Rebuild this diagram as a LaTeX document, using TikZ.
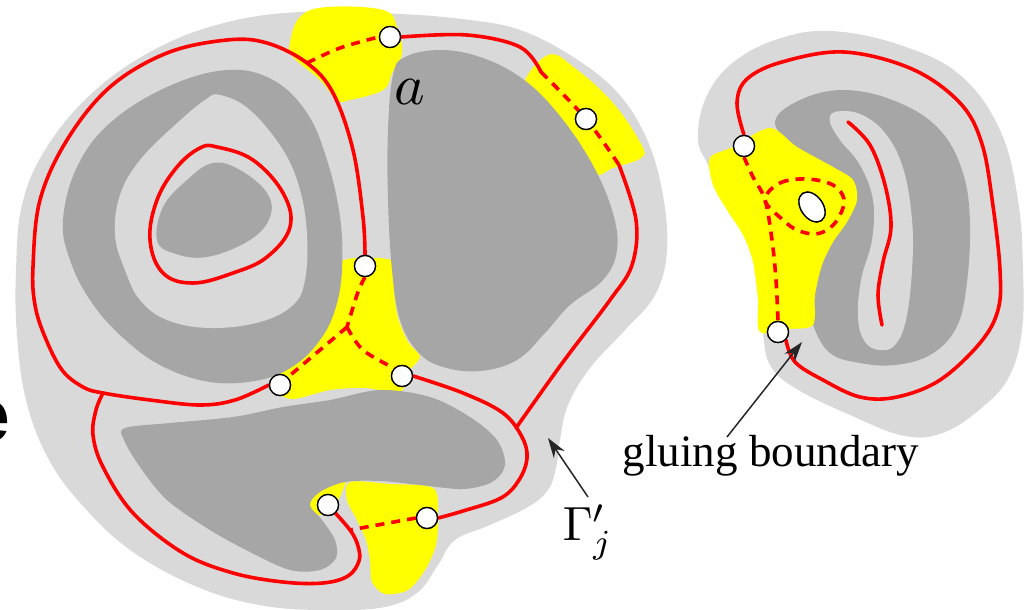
\documentclass[tikz,border=0pt]{standalone}
\usepackage{fontspec}
\setmainfont{Liberation Serif}
\newfontfamily\labelsans{Liberation Sans}
\usetikzlibrary{arrows.meta,shapes.geometric}
\definecolor{lg}{HTML}{D9D9D9}
\definecolor{dg}{HTML}{A6A6A6}
\definecolor{yl}{HTML}{FFFF00}
\definecolor{rd}{HTML}{FF0000}
\begin{document}
\begin{tikzpicture}[x=1pt,y=-1pt,
  redline/.style={draw=rd,line width=3.6pt,line cap=round},
  reddash/.style={draw=rd,line width=3.6pt,dash pattern=on 9pt off 7pt},
  dot/.style={circle,draw=black,fill=white,line width=1.3pt,minimum size=21pt,inner sep=0pt},
  hole/.style={ellipse,draw=black,fill=white,line width=1.3pt,minimum width=33pt,minimum height=22pt,inner sep=0pt},
  pointer/.style={draw=black!85,line width=1.5pt,-{Stealth[length=20pt,width=13pt]}},
  sm/.style={smooth cycle,tension=0.65}]
\useasboundingbox (0,0) rectangle (1036,610);
\begin{scope}
\clip (0,0) rectangle (1036,610);
\node[anchor=east,inner sep=0pt] (efrag) at (10,422) {\fontsize{75}{80}\selectfont\labelsans\bfseries e};
\end{scope}
% ---------- light gray bodies
\fill[lg] plot[sm] coordinates {(150,52) (220,24) (300,12) (400,14) (470,20) (520,30) (570,55) (615,90) (645,135) (662,190) (667,250) (655,295) (625,330) (590,368) (568,405) (560,440) (556,468) (548,490) (528,507) (490,525) (455,540) (438,565) (418,592) (385,607) (330,610) (265,606) (200,588) (133,552) (83,506) (48,458) (26,400) (17,335) (16,270) (22,205) (45,150) (90,95)};
\fill[lg] plot[sm] coordinates {(830,31) (900,45) (960,75) (1000,130) (1018,200) (1023,270) (1022,330) (1010,375) (985,405) (945,432) (905,436) (850,415) (795,388) (770,365) (763,333) (760,300) (756,270) (748,240) (735,215) (718,190) (708,165) (698,140) (705,100) (730,65) (775,40)};
% ---------- yellow patches
\fill[yl] plot[sm] coordinates {(290,43) (300,17) (327,7) (383,10) (397,27) (402,53) (392,73) (383,90) (350,100) (337,100) (320,80) (293,57)};
\fill[yl] plot[sm] coordinates {(522,90) (548,55) (576,69) (613,103) (641,144) (641,158) (613,168) (596,175) (580,160) (545,118)};
\fill[yl] plot[smooth cycle,tension=0.5] coordinates {(340,262) (368,258) (394,262) (394,290) (398,318) (408,342) (420,357) (408,372) (400,392) (365,388) (330,390) (292,399) (272,388) (275,370) (300,355) (325,320) (335,290)};
\fill[yl] plot[smooth cycle,tension=0.5] coordinates {(350,482) (390,484) (433,488) (438,515) (436,545) (425,570) (408,590) (385,594) (372,582) (370,560) (366,540) (357,520) (347,500)};
\fill[yl] plot[smooth cycle,tension=0.5] coordinates {(305,497) (311,484) (330,477) (346,477) (342,492) (335,505) (322,515) (309,512)};
% ---------- dark gray regions, left figure
\fill[dg] plot[sm] coordinates {(63,220) (77,167) (110,123) (167,87) (227,70) (273,80) (307,113) (327,160) (340,217) (342,270) (335,310) (320,340) (295,365) (260,380) (210,382) (160,365) (120,335) (90,300) (70,260)};
\fill[lg] plot[sm] coordinates {(220,95) (250,110) (283,150) (300,190) (307,235) (305,280) (293,305) (260,322) (210,328) (167,320) (140,300) (125,270) (115,235) (120,195) (140,160) (175,125) (205,100)};
\fill[dg] plot[sm] coordinates {(213,163) (240,170) (267,193) (270,217) (250,240) (207,257) (173,253) (157,240) (163,207) (187,180)};
\fill[dg] plot[sm] coordinates {(393,75) (405,57) (440,50) (480,57) (520,77) (555,110) (590,160) (612,210) (617,250) (603,280) (570,305) (545,333) (517,360) (480,371) (443,367) (418,352) (400,320) (392,270) (388,200) (388,130)};
\fill[dg] plot[smooth cycle,tension=0.55] coordinates {(125,428) (170,423) (233,417) (283,407) (330,400) (380,390) (430,397) (470,417) (497,440) (505,465) (492,482) (463,489) (420,485) (380,481) (345,482) (320,492) (310,505) (322,520) (335,540) (336,558) (320,570) (290,570) (250,552) (210,530) (167,500) (140,467) (124,440)};
% ---------- right figure
\fill[dg] plot[sm] coordinates {(775,122) (800,100) (844,90) (895,101) (938,128) (962,170) (970,223) (966,290) (955,330) (930,355) (895,365) (860,363) (830,353) (813,325) (805,290) (810,250) (825,215) (815,180) (795,150)};
\fill[lg] plot[sm] coordinates {(835,112) (860,114) (885,133) (903,168) (912,220) (912,270) (906,320) (895,345) (880,350) (865,342) (858,318) (861,280) (872,240) (873,200) (860,165) (840,140) (830,122)};
\fill[yl] plot[smooth cycle,tension=0.5] coordinates {(710,158) (733,147) (770,128) (797,147) (833,167) (853,180) (857,200) (847,222) (833,242) (822,265) (815,295) (813,325) (790,329) (760,332) (758,300) (753,262) (743,235) (727,210) (713,185)};
% ---------- named points
\node[dot] (n1) at (390,37) {};
\node[dot] (n2) at (586,119) {};
\node[dot] (n3) at (365,266) {};
\node[dot] (n4) at (280,385) {};
\node[dot] (n5) at (402,376) {};
\node[dot] (n6) at (328,505) {};
\node[dot] (n7) at (427,518) {};
\node[dot] (n8) at (744,146) {};
\node[dot] (n9) at (778,332) {};
\node[hole,rotate=-55] (h1) at (812,207) {};
\coordinate (jL) at (103,393);
\coordinate (jR) at (516,428);
\coordinate (jT) at (307,63);
\coordinate (jS) at (350,530);
\coordinate (jY) at (347,327);
\coordinate (jW) at (765,200);
% ---------- red curves (left figure)
\draw[redline] plot[smooth,tension=0.6] coordinates {(n1.east) (467,35) (520,47) (541,72)};
\draw[reddash] plot[smooth,tension=0.6] coordinates {(541,72) (n2) (619,165)};
\draw[redline] plot[smooth,tension=0.6] coordinates {(619,165) (636,220) (632,265) (610,300) (563,362) (jR)};
\draw[redline] plot[smooth,tension=0.6] coordinates {(n5.east) (463,393) (503,413) (522,437) (527,458) (519,480) (501,498) (463,511) (n7.east)};
\draw[redline] plot[smooth,tension=0.6] coordinates {(n3.north) (363,217) (353,150) (333,93) (jT) (267,43) (227,40) (167,53) (110,87) (67,140) (40,200) (33,267) (35,305) (45,337) (62,370) (83,387) (jL) (150,400) (200,405) (235,400) (n4.west)};
\draw[redline] plot[smooth,tension=0.6] coordinates {(jL) (96,410) (93,435) (103,467) (133,513) (183,553) (233,573) (283,582) (323,583) (348,576) (359,561) (358,546) (jS) (n6)};
\draw[redline] plot[smooth cycle,tension=0.65] coordinates {(217,147) (253,160) (283,193) (290,227) (267,257) (233,273) (193,283) (163,273) (150,240) (157,200) (177,167) (200,148)};
\draw[reddash] plot[smooth,tension=0.6] coordinates {(jT) (340,48) (n1.west)};
\draw[reddash] (n7.west) -- (jS);
\draw[reddash] plot[smooth,tension=0.6] coordinates {(n3.south) (358,292) (jY)};
\draw[reddash] plot[smooth,tension=0.6] coordinates {(jY) (320,350) (n4.north east)};
\draw[reddash] plot[smooth,tension=0.6] coordinates {(jY) (363,350) (n5.north west)};
% ---------- red curves (right figure)
\draw[redline] plot[smooth,tension=0.6] coordinates {(n8.north) (737,103) (747,79) (782,62) (844,52) (912,69) (960,103) (982,144) (993,206) (1000,270) (998,310) (980,343) (940,380) (897,397) (860,397) (823,380) (795,362) (n9.south east)};
\draw[redline] plot[smooth,tension=0.6] coordinates {(848,122) (870,145) (885,185) (891,227) (883,262) (878,295) (882,325)};
\draw[reddash] plot[smooth,tension=0.6] coordinates {(n8.south) (753,177) (jW) (772,240) (776,280) (n9.north)};
\draw[reddash] plot[smooth cycle,tension=0.6] coordinates {(jW) (780,183) (807,179) (833,185) (844,199) (840,215) (830,228) (815,234) (797,230) (783,220)};
% dots on top of the curves
\node[dot] at (n1) {};
\node[dot] at (n2) {};
\node[dot] at (n3) {};
\node[dot] at (n4) {};
\node[dot] at (n5) {};
\node[dot] at (n6) {};
\node[dot] at (n7) {};
\node[dot] at (n8) {};
\node[dot] at (n9) {};
\node[hole,rotate=-55] at (h1) {};
% ---------- labels and pointers
\node[inner sep=0pt] (alab) at (410,92) {\scalebox{5.8}{$a$}};
\node[inner sep=0pt] (glue) at (771,456) {\fontsize{45}{50}\selectfont gluing boundary};
\node[inner sep=0pt] (gam) at (588,532) {\scalebox{4.8}{$\Gamma'_j$}};
\coordinate (gtail) at (727,437);
\coordinate (gtip) at (802,342);
\coordinate (ttail) at (588,497);
\coordinate (ttip) at (548,438);
\draw[pointer] (gtail) -- (gtip);
\draw[pointer] (ttail) -- (ttip);
\end{tikzpicture}
\end{document}
